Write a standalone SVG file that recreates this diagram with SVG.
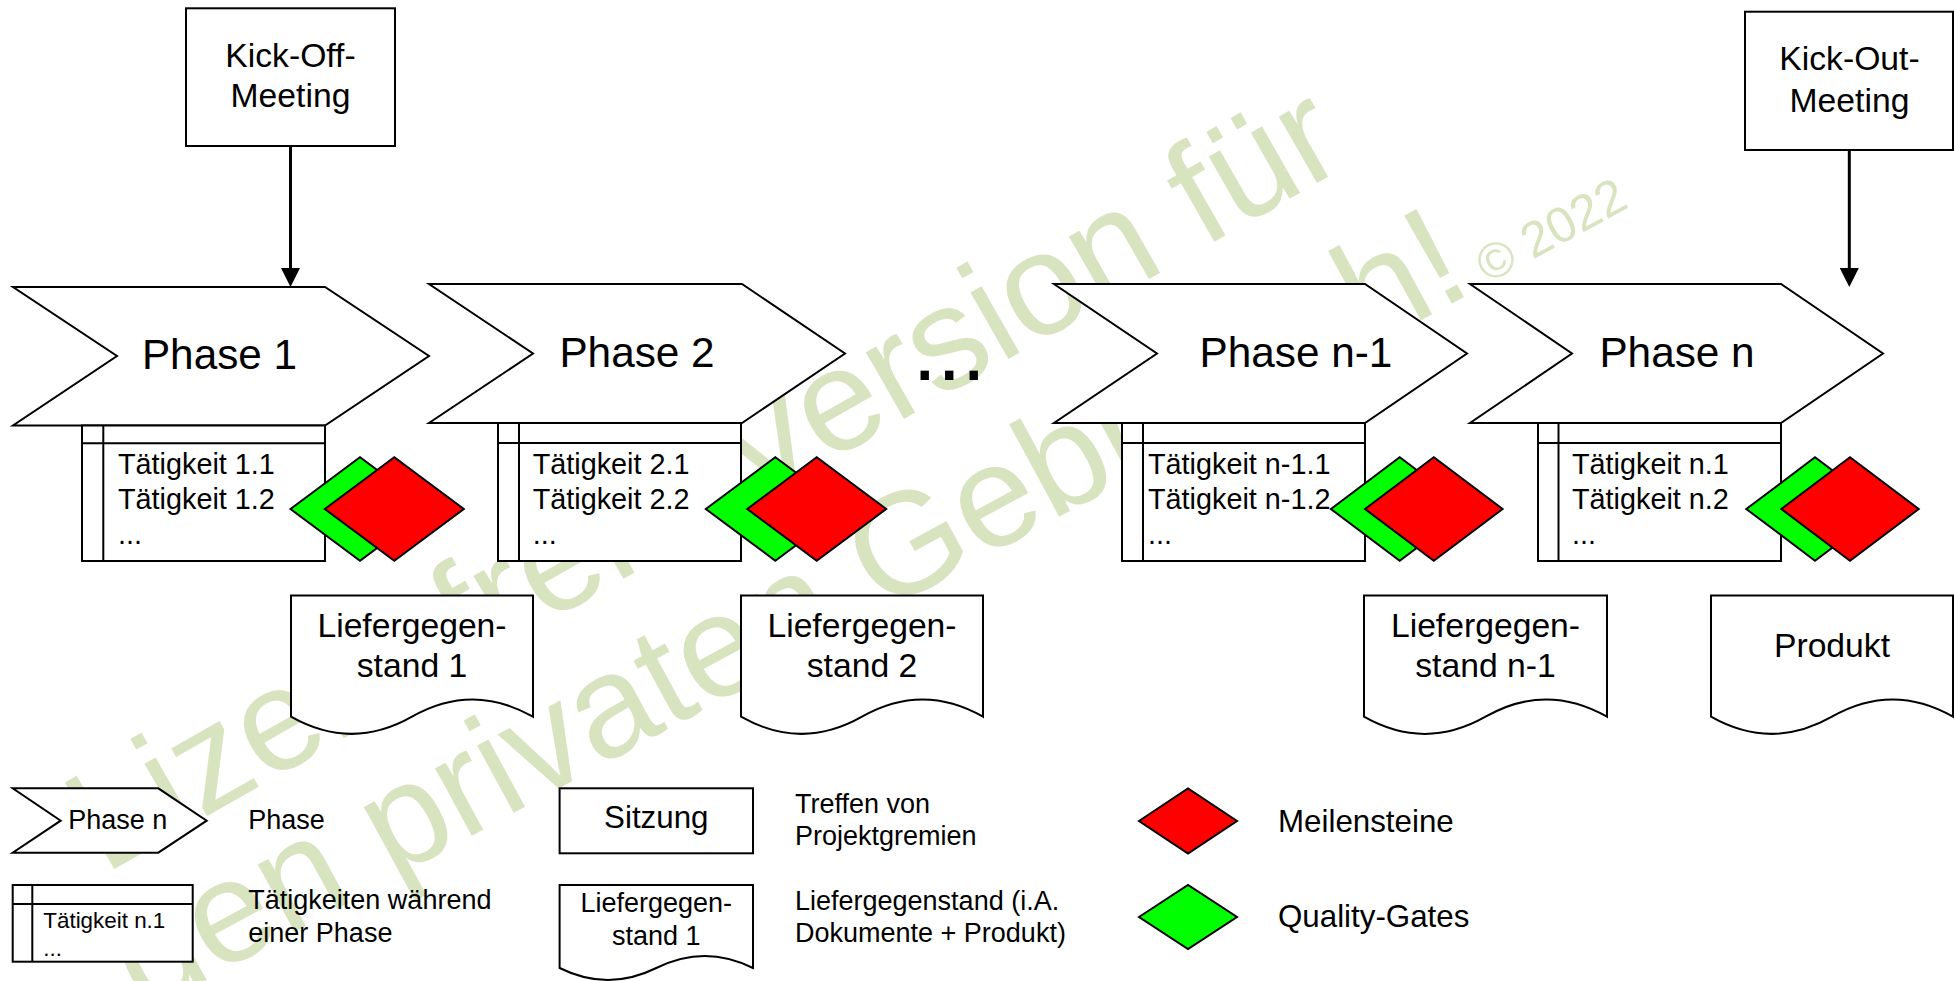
<svg xmlns="http://www.w3.org/2000/svg" width="1954" height="981" viewBox="0 0 1954 981">
  <style>
    .sh { fill: #ffffff; stroke: #000000; stroke-width: 2; stroke-linejoin: miter; }
    .ln { fill: none; stroke: #000000; stroke-width: 2; }
    .ms { fill: #ff0000; stroke: #000000; stroke-width: 2; stroke-linejoin: miter; }
    .qg { fill: #00ff00; stroke: #000000; stroke-width: 2; stroke-linejoin: miter; }
    .t { font-family: "Liberation Sans", Arial, sans-serif; fill: #000000; }
    .c { text-anchor: middle; }
    .big { font-size: 42.3px; }
    .mid { font-size: 33.7px; }
    .act { font-size: 28.8px; }
    .leg { font-size: 27px; }
    .wm { font-family: "Liberation Sans", Arial, sans-serif; fill: #d8e4bf; }
    .conn { fill: none; stroke: #000000; stroke-width: 3; }
  </style>
  <defs>
    <marker id="arrow" markerUnits="userSpaceOnUse" markerWidth="19" markerHeight="19" refX="0" refY="9.5" orient="auto">
      <path d="M0,0 L19,9.5 L0,19 Z" fill="#000000"/>
    </marker>
  </defs>

  <rect x="0" y="0" width="1954" height="981" fill="#ffffff"/>

  <!-- watermark, drawn behind everything -->
  <g id="watermark">
    <text class="wm" font-size="145" transform="translate(104,875) rotate(-29.7)">Lizenzfreie Version für</text>
    <text class="wm" font-size="145" transform="translate(144,1013.6) rotate(-28.5)">den privaten Gebrauch!<tspan font-size="50"> © 2022</tspan></text>
  </g>

  <!-- meetings -->
  <g id="kickoff">
    <rect class="sh" x="186" y="8.3" width="209" height="137.7"/>
    <text class="t c mid" x="290.5" y="67">Kick-Off-</text>
    <text class="t c mid" x="290.5" y="107">Meeting</text>
  </g>
  <g id="kickout">
    <rect class="sh" x="1745" y="11.7" width="208" height="138.3"/>
    <text class="t c mid" x="1849.5" y="70">Kick-Out-</text>
    <text class="t c mid" x="1849.5" y="111.7">Meeting</text>
  </g>

  <!-- phase 1 -->
  <g id="phase1">
    <polygon class="sh" points="13,287 325,287 429,356 325,425.5 13,425.5 117,356"/>
    <text class="t c big" x="219.5" y="369.3">Phase 1</text>
  </g>
  <g id="tasks1">
    <rect class="sh" x="82" y="425.5" width="243" height="135.5"/>
    <line class="ln" x1="82" y1="443.3" x2="325" y2="443.3"/>
    <line class="ln" x1="103.3" y1="425.5" x2="103.3" y2="561"/>
    <text class="t act" x="118" y="474">Tätigkeit 1.1</text>
    <text class="t act" x="118" y="508.5">Tätigkeit 1.2</text>
    <text class="t act" x="118" y="543.5">...</text>
  </g>
  <g id="gate1">
    <polygon class="qg" points="290.5,509 360,457.3 429.5,509 360,560.7"/>
  </g>
  <g id="milestone1">
    <polygon class="ms" points="324.8,509 394.3,457.3 463.8,509 394.3,560.7"/>
  </g>

  <!-- phase 2 -->
  <g id="phase2">
    <polygon class="sh" points="429,284 742,284 845,353.5 742,423 429,423 533,353.5"/>
    <text class="t c big" x="637" y="366.7">Phase 2</text>
  </g>
  <g id="tasks2">
    <rect class="sh" x="498" y="423" width="243" height="138"/>
    <line class="ln" x1="498" y1="443" x2="741" y2="443"/>
    <line class="ln" x1="519" y1="423" x2="519" y2="561"/>
    <text class="t act" x="532.7" y="474">Tätigkeit 2.1</text>
    <text class="t act" x="532.7" y="508.5">Tätigkeit 2.2</text>
    <text class="t act" x="532.7" y="543.5">...</text>
  </g>
  <g id="gate2">
    <polygon class="qg" points="705.8,509 775.3,457.3 844.8,509 775.3,560.7"/>
  </g>
  <g id="milestone2">
    <polygon class="ms" points="747.2,509 816.7,457.3 886.2,509 816.7,560.7"/>
  </g>

  <g id="ellipsis">
    <text class="t" x="912.5" y="380" font-size="88">...</text>
  </g>

  <!-- phase n-1 -->
  <g id="phase-n-1">
    <polygon class="sh" points="1054,284 1365,284 1467,353.5 1365,423 1054,423 1157,353.5"/>
    <text class="t c big" x="1296" y="366.7">Phase n-1</text>
  </g>
  <g id="tasks-n-1">
    <rect class="sh" x="1122" y="423" width="243" height="138"/>
    <line class="ln" x1="1122" y1="443" x2="1365" y2="443"/>
    <line class="ln" x1="1143" y1="423" x2="1143" y2="561"/>
    <text class="t act" x="1148" y="474">Tätigkeit n-1.1</text>
    <text class="t act" x="1148" y="508.5">Tätigkeit n-1.2</text>
    <text class="t act" x="1148" y="543.5">...</text>
  </g>
  <g id="gate-n-1">
    <polygon class="qg" points="1330.9,509 1399.7,457.3 1468.5,509 1399.7,560.7"/>
  </g>
  <g id="milestone-n-1">
    <polygon class="ms" points="1365,509 1433.8,457.3 1502.6,509 1433.8,560.7"/>
  </g>

  <!-- phase n -->
  <g id="phase-n">
    <polygon class="sh" points="1470,284 1781,284 1883,353.5 1781,423 1470,423 1572,353.5"/>
    <text class="t c big" x="1677" y="366.7">Phase n</text>
  </g>
  <g id="tasks-n">
    <rect class="sh" x="1538" y="423" width="243" height="138"/>
    <line class="ln" x1="1538" y1="443" x2="1781" y2="443"/>
    <line class="ln" x1="1558.5" y1="423" x2="1558.5" y2="561"/>
    <text class="t act" x="1572" y="474">Tätigkeit n.1</text>
    <text class="t act" x="1572" y="508.5">Tätigkeit n.2</text>
    <text class="t act" x="1572" y="543.5">...</text>
  </g>
  <g id="gate-n">
    <polygon class="qg" points="1746.3,509 1815,457.3 1883.7,509 1815,560.7"/>
  </g>
  <g id="milestone-n">
    <polygon class="ms" points="1781.3,509 1850,457.3 1918.7,509 1850,560.7"/>
  </g>

  <!-- deliverables -->
  <g id="deliverable1">
    <path class="sh" d="M291,595.5 H533 V716.7 C493,694 452,694 412,716.7 C372,739.4 331,739.4 291,716.7 Z"/>
    <text class="t c mid" x="412" y="636.5">Liefergegen-</text>
    <text class="t c mid" x="412" y="676.7">stand 1</text>
  </g>
  <g id="deliverable2">
    <path class="sh" d="M741,595.5 H983 V716.7 C943,694 902,694 862,716.7 C822,739.4 781,739.4 741,716.7 Z"/>
    <text class="t c mid" x="862" y="636.5">Liefergegen-</text>
    <text class="t c mid" x="862" y="676.7">stand 2</text>
  </g>
  <g id="deliverable-n-1">
    <path class="sh" d="M1364,595.5 H1607 V716.7 C1567,694 1525.5,694 1485.5,716.7 C1445.5,739.4 1404,739.4 1364,716.7 Z"/>
    <text class="t c mid" x="1485.5" y="636.5">Liefergegen-</text>
    <text class="t c mid" x="1485.5" y="676.7">stand n-1</text>
  </g>
  <g id="product">
    <path class="sh" d="M1711,595.5 H1953 V716.7 C1913,694 1872,694 1832,716.7 C1792,739.4 1751,739.4 1711,716.7 Z"/>
    <text class="t c mid" x="1832" y="656.7">Produkt</text>
  </g>

  <!-- connectors -->
  <g id="connectors">
    <line class="conn" x1="290.5" y1="146" x2="290.5" y2="268" marker-end="url(#arrow)"/>
    <line class="conn" x1="1849.3" y1="150" x2="1849.3" y2="268" marker-end="url(#arrow)"/>
  </g>

  <!-- legend -->
  <g id="legend-phase">
    <polygon class="sh" points="12.7,788.3 158.3,788.3 206.7,820.7 158.3,852.7 12.7,852.7 60.7,820.7"/>
    <text class="t leg" x="68.3" y="828.7">Phase n</text>
    <text class="t leg" x="248.3" y="828.7">Phase</text>
  </g>
  <g id="legend-tasks">
    <rect class="sh" x="12.7" y="885" width="180" height="76.7"/>
    <line class="ln" x1="12.7" y1="904" x2="192.7" y2="904"/>
    <line class="ln" x1="32.3" y1="885" x2="32.3" y2="961.7"/>
    <text class="t" x="43.3" y="928.3" font-size="22.4">Tätigkeit n.1</text>
    <text class="t" x="43.3" y="956" font-size="22.4">...</text>
    <text class="t leg" x="248.3" y="909.3">Tätigkeiten während</text>
    <text class="t leg" x="248.3" y="941.7">einer Phase</text>
  </g>
  <g id="legend-meeting">
    <rect class="sh" x="559.6" y="788.3" width="193.4" height="65"/>
    <text class="t c" x="656.3" y="828" font-size="31.3">Sitzung</text>
    <text class="t leg" x="795" y="813.3">Treffen von</text>
    <text class="t leg" x="795" y="845">Projektgremien</text>
  </g>
  <g id="legend-deliverable">
    <path class="sh" d="M559.6,885 H753 V968 C721,952 688.5,952 656.3,968 C624,984 591.8,984 559.6,968 Z"/>
    <text class="t c leg" x="656.3" y="911.7">Liefergegen-</text>
    <text class="t c leg" x="656.3" y="945">stand 1</text>
    <text class="t leg" x="795" y="910">Liefergegenstand (i.A.</text>
    <text class="t leg" x="795" y="941.7">Dokumente + Produkt)</text>
  </g>
  <g id="legend-milestone">
    <polygon class="ms" points="1139,821 1188,788.5 1237,821 1188,853.5"/>
    <text class="t" x="1278" y="831.7" font-size="31.3">Meilensteine</text>
  </g>
  <g id="legend-gate">
    <polygon class="qg" points="1139,917 1188,885 1237,917 1188,949"/>
    <text class="t" x="1278" y="926.7" font-size="31.3">Quality-Gates</text>
  </g>
</svg>
